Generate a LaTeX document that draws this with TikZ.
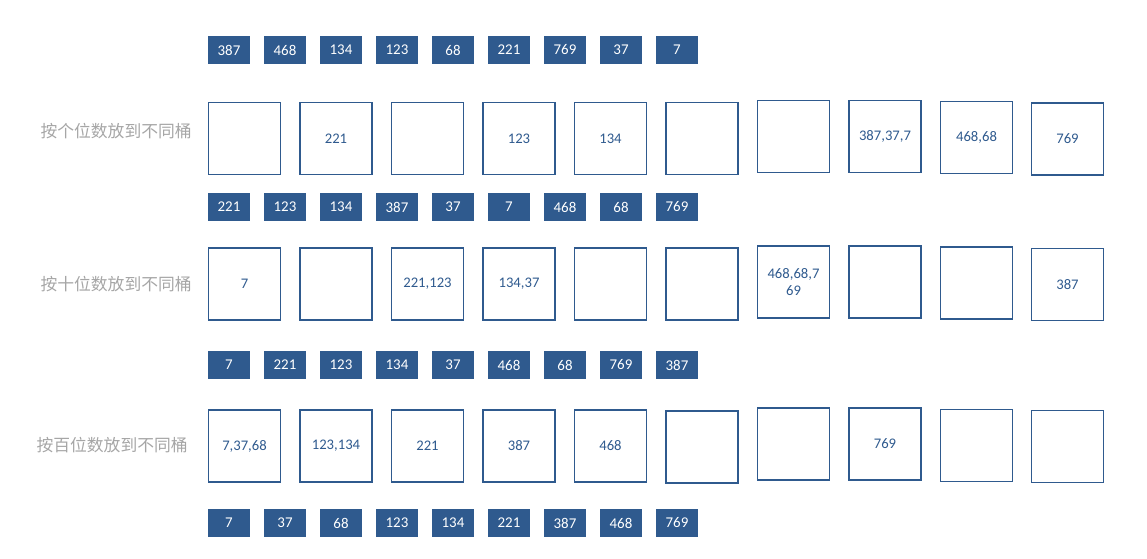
\documentclass[tikz,border=0pt]{standalone}
\usepackage{fontspec}
\setmainfont{Carlito}
\newfontfamily\cjk{Noto Sans CJK SC}
\usepackage{tikz}
\usetikzlibrary{positioning}
\definecolor{tagblue}{HTML}{2F5A8E}
\definecolor{labelgray}{HTML}{A6A6A6}
\tikzset{
  tag/.style={fill=tagblue,text=white,inner sep=0pt,
    minimum width=31.5pt,minimum height=21pt,font=\fontsize{11.2}{12}\selectfont},
  bucket/.style={draw=tagblue,line width=0.9pt,text=tagblue,inner sep=0pt,align=center,
    minimum width=54pt,minimum height=54pt,font=\fontsize{11}{12.5}\selectfont},
  rowlabel/.style={text=labelgray,anchor=east,inner sep=0pt,font=\cjk\fontsize{12.6}{14}\selectfont}
}

\begin{document}
\begin{tikzpicture}[x=0.75pt,y=-0.75pt]
  \useasboundingbox (0,0) rectangle (1147,559);
  % number rows
  \foreach \v [count=\i] in {387,468,134,123,68,221,769,37,7}
    \node[tag] (a\i) at ({173+56*\i},50) {\v};
  \foreach \v [count=\i] in {221,123,134,387,37,7,468,68,769}
    \node[tag] (b\i) at ({173+56*\i},207) {\v};
  \foreach \v [count=\i] in {7,221,123,134,37,468,68,769,387}
    \node[tag] (c\i) at ({173+56*\i},365) {\v};
  \foreach \v [count=\i] in {7,37,68,123,134,221,387,468,769}
    \node[tag] (d\i) at ({173+56*\i},523) {\v};
  % row labels
  \node[rowlabel] (l1) at (192,131) {按个位数放到不同桶};
  \node[rowlabel] (l2) at (192,284) {按十位数放到不同桶};
  \node[rowlabel] (l3) at (188,445) {按百位数放到不同桶};
  % buckets
  \foreach \x/\y/\t [count=\i] in {244.5/138.5/{},336/138.5/221,427.5/138.5/{},
      519/138.5/123,610.5/138.5/134,702/138.5/{},793.5/136.5/{},
      885/136.5/{387,37,7},976.5/137.5/{468,68},1067.5/139/769}
    \node[bucket] (p\i) at (\x,\y) {\t};
  \foreach \x/\y/\t [count=\i] in {244.5/284/7,336/284/{},427.5/284/{221,123},
      519/284/{134,37},610.5/284/{},702/284/{},793.5/282/{468,68,7\\69},
      885/282/{},976.5/283/{},1067.5/284.5/387}
    \node[bucket] (q\i) at (\x,\y) {\t};
  \foreach \x/\y/\t [count=\i] in {244.5/446/{7,37,68},336/446/{123,134},427.5/446/221,
      519/446/387,610.5/446/468,702/447/{},793.5/444/{},
      885/444/769,976.5/445.5/{},1067.5/446.5/{}}
    \node[bucket] (r\i) at (\x,\y) {\t};
\end{tikzpicture}
\end{document}
